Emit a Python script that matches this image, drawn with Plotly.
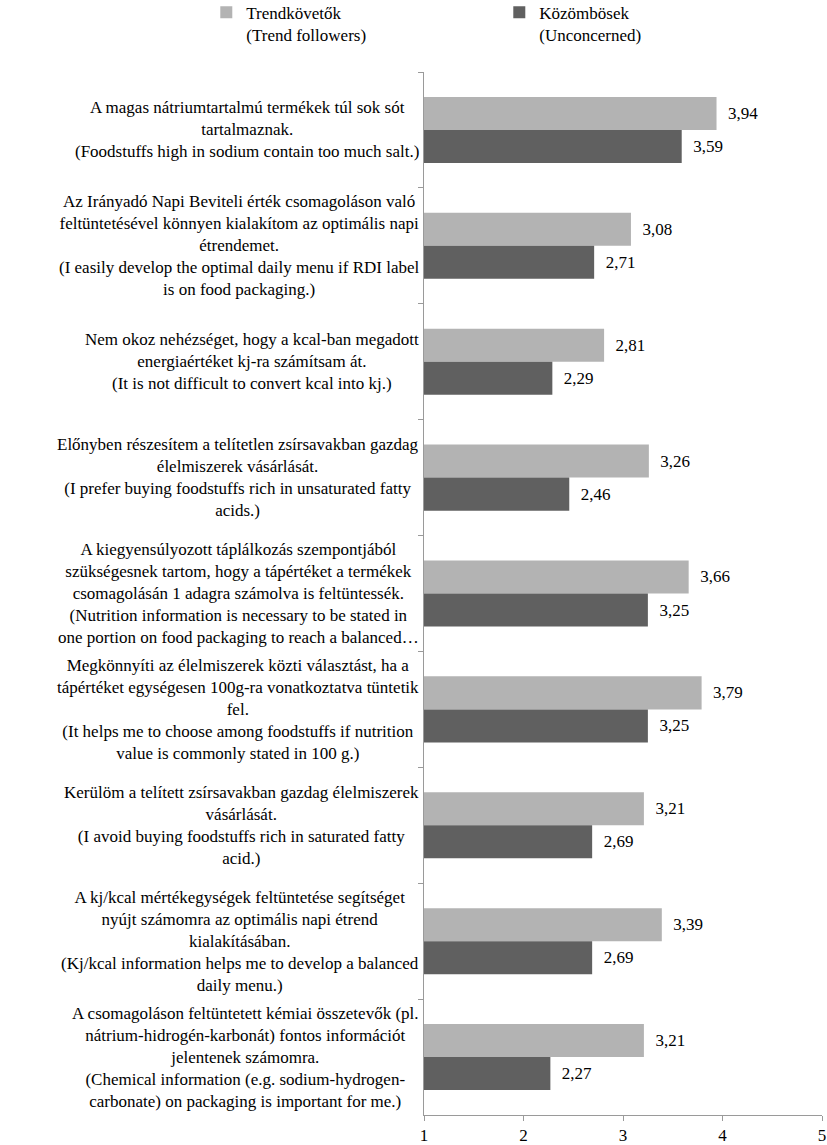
import plotly.graph_objects as go

categories = [
    "A magas nátriumtartalmú termékek túl sok sót<br>tartalmaznak.<br>(Foodstuffs high in sodium contain too much salt.)",
    "Az Irányadó Napi Beviteli érték csomagoláson való<br>feltüntetésével könnyen kialakítom az optimális napi<br>étrendemet.<br>(I easily develop the optimal daily menu if RDI label<br>is on food packaging.)",
    "Nem okoz nehézséget, hogy a kcal-ban megadott<br>energiaértéket kj-ra számítsam át.<br>(It is not difficult to convert kcal into kj.)",
    "Előnyben részesítem a telítetlen zsírsavakban gazdag<br>élelmiszerek vásárlását.<br>(I prefer buying foodstuffs rich in unsaturated fatty<br>acids.)",
    "A kiegyensúlyozott táplálkozás szempontjából<br>szükségesnek tartom, hogy a tápértéket a termékek<br>csomagolásán 1 adagra számolva is feltüntessék.<br>(Nutrition information is necessary to be stated in<br>one portion on food packaging to reach a balanced…",
    "Megkönnyíti az élelmiszerek közti választást, ha a<br>tápértéket egységesen 100g-ra vonatkoztatva tüntetik<br>fel.<br>(It helps me to choose among foodstuffs if nutrition<br>value is commonly stated in 100 g.)",
    "Kerülöm a telített zsírsavakban gazdag élelmiszerek<br>vásárlását.<br>(I avoid buying foodstuffs rich in saturated fatty<br>acid.)",
    "A kj/kcal mértékegységek feltüntetése segítséget<br>nyújt számomra az optimális napi étrend<br>kialakításában.<br>(Kj/kcal information helps me to develop a balanced<br>daily menu.)",
    "A csomagoláson feltüntetett kémiai összetevők (pl.<br>nátrium-hidrogén-karbonát) fontos információt<br>jelentenek számomra.<br>(Chemical information (e.g. sodium-hydrogen-<br>carbonate) on packaging is important for me.)",
]
cat_ids = [f"c{i}" for i in range(len(categories))]

trend_followers = [3.94, 3.08, 2.81, 3.26, 3.66, 3.79, 3.21, 3.39, 3.21]
unconcerned = [3.59, 2.71, 2.29, 2.46, 3.25, 3.25, 2.69, 2.69, 2.27]

series_names = ["Trendkövetők<br>(Trend followers)", "Közömbösek<br>(Unconcerned)"]
x_ticks = [1, 2, 3, 4, 5]

def fmt(v):
    return "\u00a0\u00a0" + f"{v:.2f}".replace(".", ",")

FONT = "Liberation Serif"
FS = 17

fig = go.Figure()
fig.add_trace(go.Bar(
    y=cat_ids, x=trend_followers, orientation="h", name=series_names[0],
    marker=dict(color="#b3b3b3", line=dict(width=0)),
    text=[fmt(v) for v in trend_followers], textposition="outside",
    textfont=dict(family=FONT, size=FS, color="#000"), cliponaxis=False,
))
fig.add_trace(go.Bar(
    y=cat_ids, x=unconcerned, orientation="h", name=series_names[1],
    marker=dict(color="#606060", line=dict(width=0)),
    text=[fmt(v) for v in unconcerned], textposition="outside",
    textfont=dict(family=FONT, size=FS, color="#000"), cliponaxis=False,
))

for cid, label in zip(cat_ids, categories):
    fig.add_annotation(
        x=-0.008, xref="paper", y=cid, yref="y", text=label, showarrow=False,
        xanchor="right", yanchor="middle", align="center",
        font=dict(family=FONT, size=FS, color="#000"),
    )

fig.update_layout(
    width=827, height=1145,
    margin=dict(l=424, r=5, t=72, b=30, autoexpand=False),
    paper_bgcolor="white", plot_bgcolor="white",
    barmode="group", bargap=0.43, bargroupgap=0,
    font=dict(family=FONT, size=FS, color="#000"),
    legend=dict(
        orientation="h", x=-0.547, xanchor="left", y=1.074, yanchor="top",
        valign="top", entrywidth=248, entrywidthmode="pixels",
        font=dict(family=FONT, size=FS, color="#000"),
        itemwidth=30, traceorder="normal",
    ),
    xaxis=dict(
        range=[1, 5], tickvals=x_ticks, ticktext=[str(t) for t in x_ticks],
        showgrid=False, zeroline=False, showline=True, linecolor="#9a9a9a",
        ticks="outside", ticklen=5, tickcolor="#9a9a9a",
        tickfont=dict(family=FONT, size=FS, color="#000"),
    ),
    yaxis=dict(
        autorange="reversed", showticklabels=False, showgrid=False,
        showline=True, linecolor="#9a9a9a", ticks="outside", ticklen=5,
        tickcolor="#9a9a9a", tickson="boundaries",
    ),
)

fig.write_html("out.html", config={"displayModeBar": False},
               post_script="document.body.style.margin='0';")
